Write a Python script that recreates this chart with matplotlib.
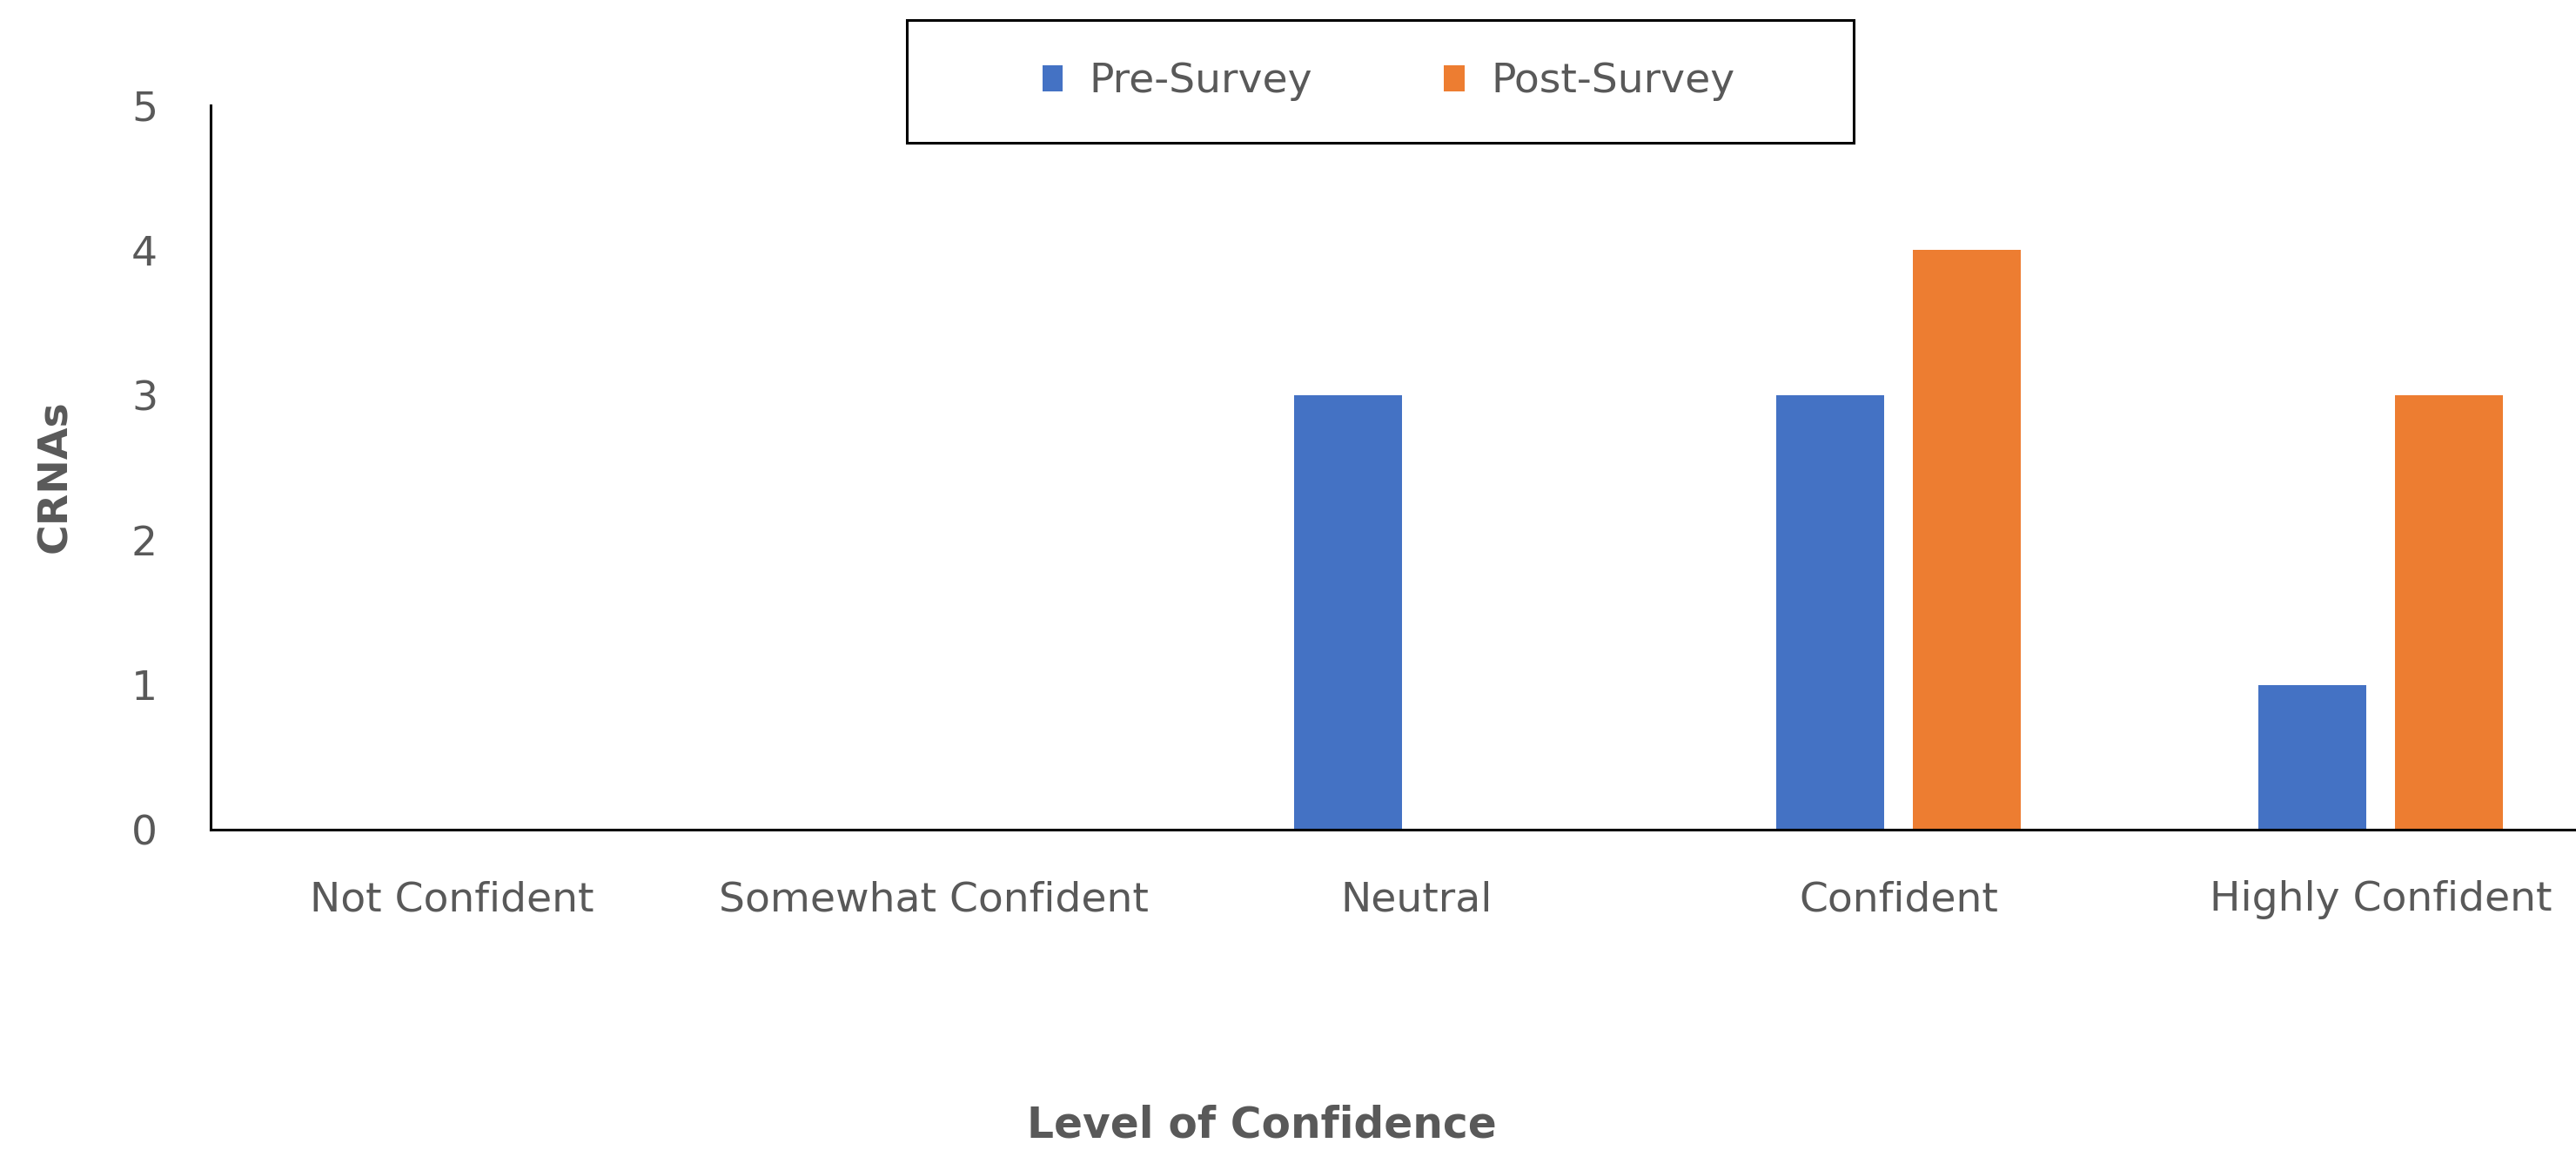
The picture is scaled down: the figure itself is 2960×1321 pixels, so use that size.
import matplotlib
matplotlib.use('Agg')
import matplotlib.pyplot as plt
import numpy as np
from matplotlib.patches import Rectangle

categories = ['Not Confident', 'Somewhat Confident', 'Neutral', 'Confident', 'Highly Confident']
pre_survey = [0, 0, 3, 3, 1]
post_survey = [0, 0, 0, 4, 3]
y_ticks = [0, 1, 2, 3, 4, 5]

blue = '#4472C4'
orange = '#ED7D31'
grey = '#595959'

plt.rcParams['font.family'] = 'DejaVu Sans'

fig = plt.figure(figsize=(14.8, 6.605), dpi=200)
# axes run past the right edge, the reference is cropped there
ax = fig.add_axes([0.0818, 0.2786, 0.9359, 0.6298])

x = np.arange(len(categories))
bar_w = 0.224
off = 0.142
ax.bar(x - off, pre_survey, bar_w, color=blue, label='Pre-Survey')
ax.bar(x + off, post_survey, bar_w, color=orange, label='Post-Survey')

ax.set_xlim(-0.5, len(categories) - 0.5)
ax.set_ylim(0, 5)
ax.set_xticks(x)
ax.set_xticklabels(categories)
ax.set_yticks(y_ticks)
ax.tick_params(axis='both', length=0, labelsize=17, labelcolor=grey)
ax.tick_params(axis='y', pad=22)
ax.tick_params(axis='x', pad=21)

for s in ['top', 'right']:
    ax.spines[s].set_visible(False)
for s in ['left', 'bottom']:
    ax.spines[s].set_color('black')
    ax.spines[s].set_linewidth(1.1)

ax.set_ylabel('CRNAs', fontsize=17, fontweight='bold', color=grey)
ax.yaxis.set_label_coords(-0.0564, 0.488)
ax.set_xlabel('Level of Confidence', fontsize=17.5, fontweight='bold', color=grey, va='center')
ax.xaxis.set_label_coords(0.436, -0.408)

# legend frame drawn by hand
fig.patches.append(Rectangle((1042 / 2960, 1 - 164 / 1321), 1088 / 2960, 141 / 1321,
                             transform=fig.transFigure, fill=False,
                             edgecolor='black', linewidth=1.1))
leg = fig.legend(loc='center', bbox_to_anchor=(0.539, 0.929), ncol=2, frameon=False,
                 fontsize=17, handlelength=0.5, handleheight=0.6,
                 handletextpad=0.64, columnspacing=3.2)
for t in leg.get_texts():
    t.set_color(grey)

fig.savefig('out.png', dpi=200)
